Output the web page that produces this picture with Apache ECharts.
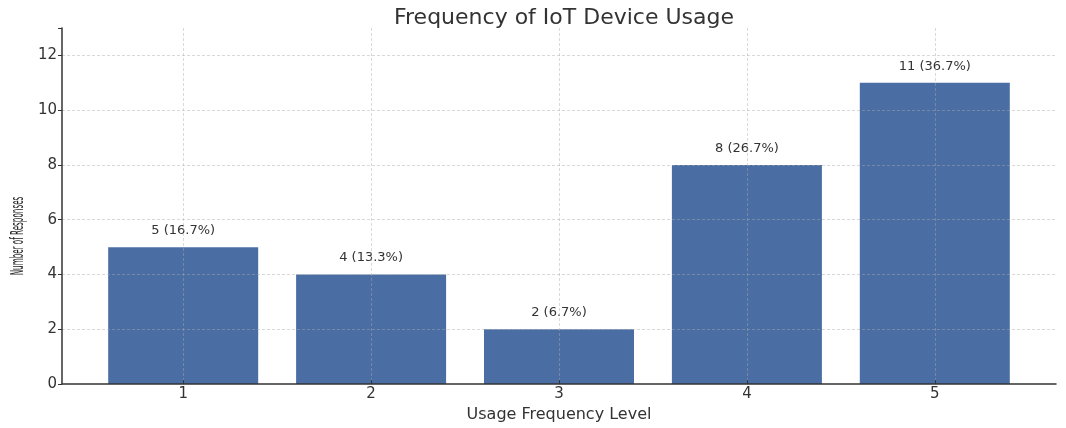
<!DOCTYPE html>
<html>
<head>
<meta charset="utf-8">
<script src="https://cdn.jsdelivr.net/npm/echarts@6/dist/echarts.min.js"></script>
<style>
  html, body { margin: 0; padding: 0; background: #fff; }
  #chart { width: 1066px; height: 428px; }
</style>
</head>
<body>
<div id="chart"></div>
<script>
// usage frequency levels and number of responses
const levels = [1, 2, 3, 4, 5];
const responses = [5, 4, 2, 8, 11];
const percents = ["16.7%", "13.3%", "6.7%", "26.7%", "36.7%"];
const yTicks = [0, 2, 4, 6, 8, 10, 12];

const barColor = "#4a6ea4";
const gridColor = "rgba(170,170,170,0.45)";

const chart = echarts.init(document.getElementById("chart"));
let option = {
  animation: false,
  textStyle: { fontFamily: "DejaVu Sans" },
  title: {
    text: "Frequency of IoT Device Usage",
    left: 559,
    textAlign: "center",
    top: 2,
    textStyle: { fontSize: 22, fontWeight: "normal", color: "#333" },
  },
  // y axis title is squeezed in the original, so draw it as scaled text
  graphic: [
    {
      type: "text",
      x: 19,
      y: 236,
      rotation: Math.PI / 2,
      scaleX: 0.47,
      style: {
        text: "Number of Responses",
        font: "17px 'DejaVu Sans Condensed', 'DejaVu Sans'",
        fill: "#222",
        textAlign: "center",
        textVerticalAlign: "middle",
      },
    },
  ],
  grid: { left: 62, right: 10, top: 28, bottom: 40 },
  xAxis: {
    type: "value",
    min: 0.355,
    max: 5.645,
    splitNumber: 5,
    z: 5,
    name: "Usage Frequency Level",
    nameLocation: "middle",
    nameGap: 17,
    nameTextStyle: { fontSize: 16, color: "#333" },
    axisLine: { lineStyle: { color: "#333", width: 1.5 } },
    axisTick: { inside: true, length: 4, lineStyle: { color: "#333" } },
    axisLabel: {
      fontSize: 15,
      color: "#333",
      margin: 3,
      showMinLabel: false,
      showMaxLabel: false,
      formatter: (v) => (Number.isInteger(v) ? String(v) : ""),
    },
    splitLine: {
      show: true,
      showMinLine: false,
      showMaxLine: false,
      lineStyle: { color: gridColor, type: [3, 2], width: 1 },
    },
  },
  yAxis: {
    type: "value",
    min: 0,
    max: 13,
    interval: 2,
    z: 5,
    axisLine: { show: true, lineStyle: { color: "#333", width: 1.5 } },
    axisTick: { show: true, length: 4, lineStyle: { color: "#333" } },
    axisLabel: {
      fontSize: 15,
      color: "#333",
      margin: 5,
      formatter: (v) => (yTicks.includes(v) ? String(v) : ""),
    },
    splitLine: {
      show: true,
      showMinLine: false,
      showMaxLine: false,
      lineStyle: { color: gridColor, type: [3, 2], width: 1 },
    },
  },
  series: [
    {
      type: "bar",
      z: 2,
      barWidth: 150,
      data: levels.map((lv, i) => [lv, responses[i]]),
      itemStyle: { color: barColor },
      label: {
        show: true,
        position: "top",
        distance: 10,
        fontSize: 13,
        color: "#333",
        formatter: (p) => responses[p.dataIndex] + " (" + percents[p.dataIndex] + ")",
      },
    },
  ],
};
chart.setOption(option);
</script>
</body>
</html>
